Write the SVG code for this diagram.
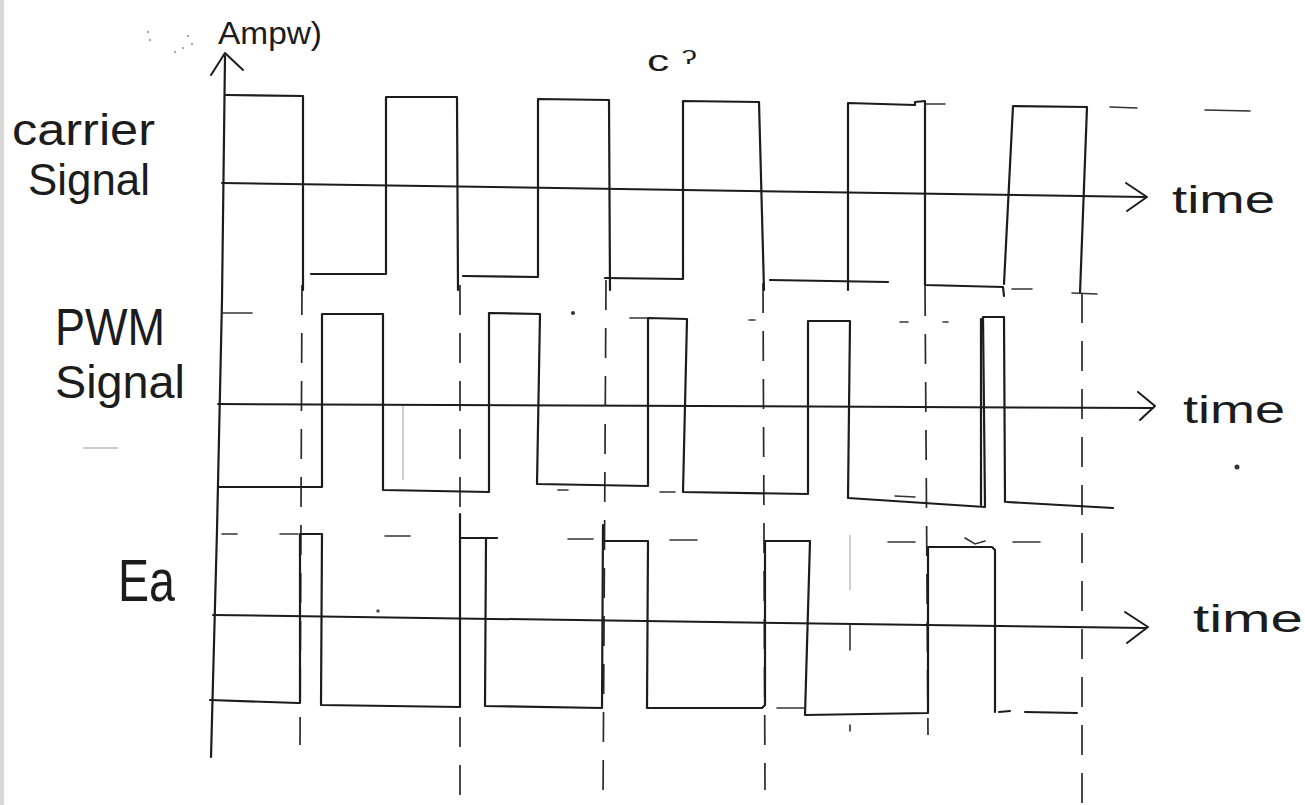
<svg xmlns="http://www.w3.org/2000/svg" width="1305" height="805" viewBox="0 0 1305 805">
<style>
.w{stroke:#1c1c1c;stroke-width:2.2;fill:none;stroke-linecap:round;stroke-linejoin:round}
.a{stroke:#1c1c1c;stroke-width:2;fill:none;stroke-linecap:round;stroke-linejoin:round}
.g{stroke:#2a2a2a;stroke-width:1.7;fill:none;stroke-dasharray:30 18}
.d{stroke:#333;stroke-width:1.6;fill:none;stroke-linecap:round}
.f{stroke:#bbb;stroke-width:1.4;fill:none}
.t{font-family:"Liberation Sans","DejaVu Sans",sans-serif;fill:#1c1c1c}
</style>
<rect width="1305" height="805" fill="#ffffff"/>
<rect x="0" y="0" width="4" height="805" fill="#d8d8d8"/>

<g id="labels">
<text class="t" x="218" y="44" font-size="32" textLength="104" lengthAdjust="spacingAndGlyphs">Ampw)</text>
<text class="t" x="647" y="71" font-size="30" textLength="50" lengthAdjust="spacingAndGlyphs">c ˀ</text>
<text class="t" x="12" y="145" font-size="44" textLength="143" lengthAdjust="spacingAndGlyphs">carrier</text>
<text class="t" x="28" y="195" font-size="44" textLength="122" lengthAdjust="spacingAndGlyphs">Signal</text>
<text class="t" x="55" y="345" font-size="51" textLength="110" lengthAdjust="spacingAndGlyphs">PWM</text>
<text class="t" x="55" y="398" font-size="47" textLength="130" lengthAdjust="spacingAndGlyphs">Signal</text>
<text class="t" x="118" y="601" font-size="60" textLength="57" lengthAdjust="spacingAndGlyphs">Ea</text>
<text class="t" x="1172" y="213" font-size="38" textLength="103" lengthAdjust="spacingAndGlyphs">time</text>
<text class="t" x="1183" y="423" font-size="38" textLength="102" lengthAdjust="spacingAndGlyphs">time</text>
<text class="t" x="1193" y="632" font-size="38" textLength="110" lengthAdjust="spacingAndGlyphs">time</text>
</g>

<g id="noise">
<circle cx="148" cy="32" r="1.2" fill="#aaa"/><circle cx="150" cy="40" r="1.2" fill="#aaa"/>
<circle cx="175" cy="52" r="1.2" fill="#aaa"/><circle cx="188" cy="36" r="1.2" fill="#aaa"/>
<circle cx="192" cy="44" r="1.2" fill="#aaa"/><circle cx="183" cy="48" r="1.2" fill="#aaa"/>
<circle cx="573" cy="313" r="2" fill="#333"/>
<circle cx="1237" cy="467" r="2.5" fill="#333"/>
<circle cx="378" cy="611" r="1.8" fill="#555"/>
<path class="f" d="M83,448 L118,448 M403,405 L403,480 M850,535 L850,590"/>
</g>

<g id="guides">
<path class="g" d="M302,285 L300,745"/>
<path class="g" d="M460,285 L460,805"/>
<path class="g" d="M606,280 L603,805"/>
<path class="g" d="M763,283 L765,790"/>
<path class="g" d="M925,286 L928,735"/>
<path class="g" d="M1082,293 L1082,805"/>
</g>

<g id="axes">
<path class="w" d="M225,56 L222,300 L217,530 L211,757"/>
<path class="a" d="M211,75 L225,53 L243,70"/>
<path class="a" d="M222,183 L1145,197"/>
<path class="a" d="M1126,183 L1147,197 L1127,211"/>
<path class="a" d="M218,404 L1153,408"/>
<path class="a" d="M1138,392 L1155,406 L1140,420"/>
<path class="a" d="M213,615 L1146,628"/>
<path class="a" d="M1125,612 L1148,627 L1127,643"/>
</g>

<g id="carrier">
<path class="w" d="M226,95 L303,96 L303,290"/>
<path class="w" d="M311,274 L386,274 L386,97 L457,97 L458,290"/>
<path class="w" d="M463,276 L538,277 L538,99 L609,100 L610,290"/>
<path class="w" d="M605,278 L683,279 L683,101 L759,102 L764,290"/>
<path class="w" d="M770,280 L888,282"/>
<path class="w" d="M848,290 L848,103 L915,105 L915,102 L925,101 L925,285 L1003,287 L1004,296"/>
<path class="w" d="M1004,284 L1013,106 L1087,107 L1080,293"/>
<path class="d" d="M925,104 L945,104 M1110,107 L1137,108 M1205,110 L1250,111 M1012,289 L1032,289 M1072,293 L1097,294"/>
</g>

<g id="pwm">
<path class="d" d="M222,313 L252,313"/>
<path class="w" d="M218,487 L322,487 L322,314 L383,314 L383,490 L489,492 L489,313 L540,314 L537,484 L648,486 L648,318 L687,319 L683,492 L808,494 L808,321 L850,321 L848,498 L985,507 L983,317 L1004,317 L1005,502"/>
<path class="w" d="M981,319 L981,505"/>
<path class="w" d="M1007,502 L1113,508"/>
<path class="d" d="M630,318 L648,318 M749,320 L755,320 M900,322 L908,322 M943,322 L948,322 M558,490 L568,490 M660,492 L675,492 M895,496 L915,497"/>
</g>

<g id="ea">
<path class="d" d="M222,534 L237,534 M280,534 L298,534 M385,536 L410,536"/>
<path class="w" d="M210,700 L298,703 L300,703 L300,534 L322,534 L321,705 L460,707 L460,514"/>
<path class="w" d="M460,538 L497,538 M486,538 L485,706 L602,708 L603,525"/>
<path class="w" d="M603,541 L648,541 L647,708 L762,708 L765,705 L765,541 L810,541 L805,715 L928,713 L928,547 L992,547 L995,550 L995,712"/>
<path class="a" d="M999,712 L1010,711 M1025,712 L1077,713"/>
<path class="d" d="M568,539 L593,539 M670,540 L697,540 M777,708 L805,708 M888,542 L915,542 M1013,542 L1040,542 M965,538 L975,544 L985,541"/>
<path class="d" d="M850,625 L850,650 M850,725 L850,731"/>
</g>
</svg>
